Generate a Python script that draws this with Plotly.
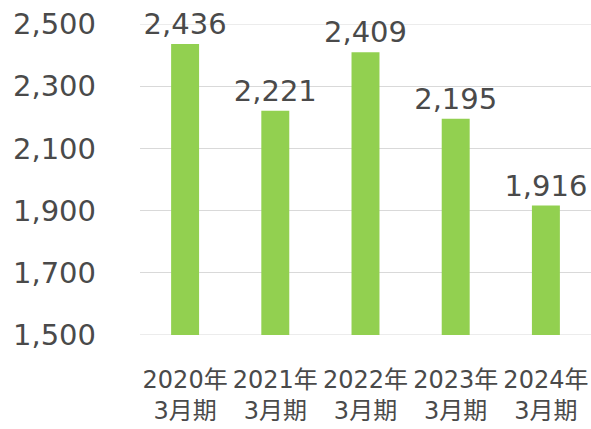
import plotly.graph_objects as go

categories = ["2020年<br>3月期", "2021年<br>3月期", "2022年<br>3月期", "2023年<br>3月期", "2024年<br>3月期"]
values = [2436, 2221, 2409, 2195, 1916]
y_ticks = [1500, 1700, 1900, 2100, 2300, 2500]
y_tick_labels = ["1,500", "1,700", "1,900", "2,100", "2,300", "2,500"]

TEXT = "#4A4A4A"
GRID = "#D9D9D9"

fig = go.Figure(go.Bar(
    x=categories,
    y=[v - y_ticks[0] for v in values],
    base=y_ticks[0],
    marker=dict(color="#92D050", line=dict(width=0)),
    text=[f"{v:,}" for v in values],
    textposition="outside",
    constraintext="none",
    textfont=dict(size=29, color=TEXT, family="DejaVu Sans"),
    cliponaxis=False,
    hovertemplate="%{x}: %{text}<extra></extra>",
))

# edge gridlines (plotly omits grid lines lying on the plot-area border)
for yv in (y_ticks[0], y_ticks[-1]):
    fig.add_shape(type="line", xref="paper", yref="y", x0=0, x1=1, y0=yv, y1=yv,
                  line=dict(color=GRID, width=1), layer="below")

fig.update_layout(
    width=591, height=429,
    margin=dict(l=140, r=0, t=24, b=94, autoexpand=False),
    paper_bgcolor="white", plot_bgcolor="white",
    bargap=0.69,
    showlegend=False,
    font=dict(family="DejaVu Sans, Noto Sans CJK JP", color=TEXT),
)
fig.update_yaxes(
    range=[y_ticks[0], y_ticks[-1]],
    tickvals=y_ticks, ticktext=y_tick_labels,
    tickfont=dict(size=29, color=TEXT),
    showgrid=True, gridcolor=GRID, gridwidth=1,
    zeroline=False, showline=False, ticks="",
    ticklabelstandoff=43, automargin=False,
)
fig.update_xaxes(
    tickfont=dict(size=24, color=TEXT),
    showgrid=False, showline=False, ticks="",
    ticklabelstandoff=28, automargin=False,
)

fig.write_html(
    "out.html",
    config={"displayModeBar": False},
    post_script="document.body.style.margin='0';document.body.style.padding='0';",
)
